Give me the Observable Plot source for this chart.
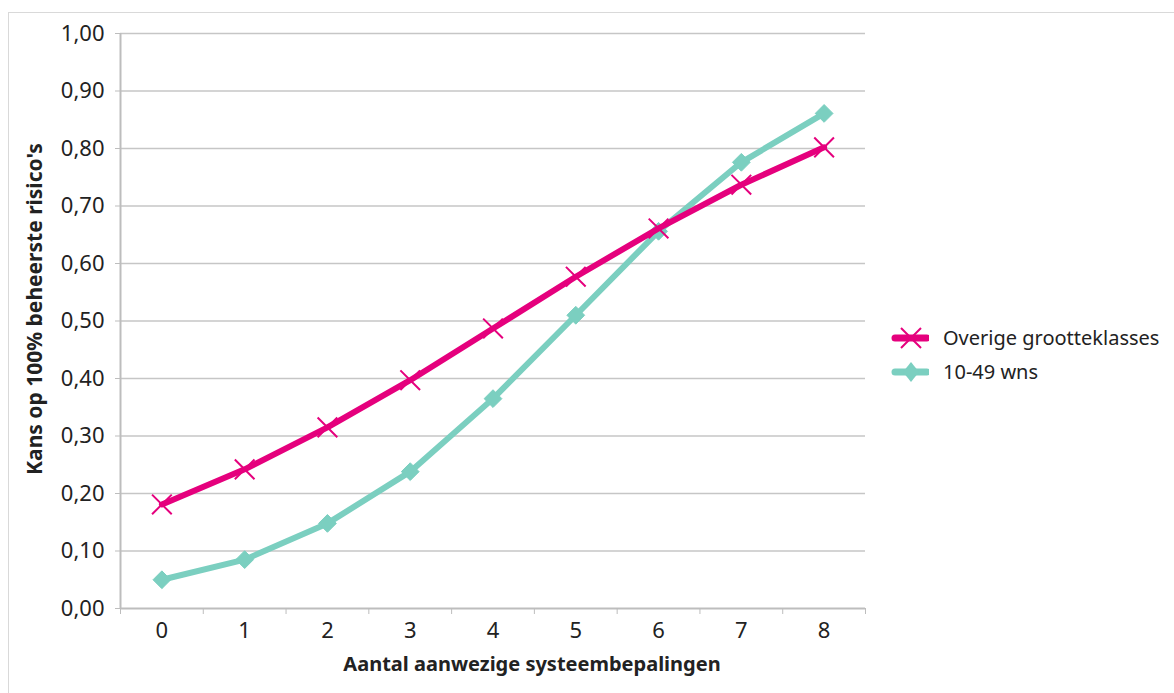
<!DOCTYPE html>
<html><head><meta charset="utf-8">
<script src="https://cdn.jsdelivr.net/npm/d3@7"></script>
<script src="https://cdn.jsdelivr.net/npm/@observablehq/plot@0.6"></script>
<style>
html,body{margin:0;padding:0;background:#fff;}
#wrap{position:relative;width:1174px;height:693px;overflow:hidden;font-family:"Noto Sans",sans-serif;}
#frame{position:absolute;left:8px;top:12px;width:1180px;height:700px;border:1px solid #d9d9d9;box-sizing:border-box;}
#chart{position:absolute;left:0;top:0;}
.leg{position:absolute;left:891px;display:flex;align-items:center;font-size:20px;color:#222;line-height:26px;}
.leg svg{margin-right:14px;}
</style></head><body>
<div id="wrap"><div id="frame"></div><div id="chart"></div>
<div class="leg" style="top:325px"><svg width="38" height="26"><line x1="4" y1="13" x2="36" y2="13" stroke="#e5007d" stroke-width="7" stroke-linecap="round"/><path d="M10,3L30,23M30,3L10,23" stroke="#e5007d" stroke-width="2"/></svg>Overige grootteklasses</div>
<div class="leg" style="top:359px"><svg width="38" height="26"><line x1="4" y1="13" x2="36" y2="13" stroke="#7bcfc0" stroke-width="7" stroke-linecap="round"/><path d="M20,3L28,13L20,23L12,13Z" fill="#7bcfc0"/></svg>10-49 wns</div>
</div>
<script>
const categories = [0,1,2,3,4,5,6,7,8];
const overige = [0.181,0.242,0.315,0.397,0.487,0.577,0.661,0.737,0.802];
const wns = [0.050,0.085,0.148,0.238,0.365,0.510,0.656,0.776,0.861];
const yTicks = [0,0.1,0.2,0.3,0.4,0.5,0.6,0.7,0.8,0.9,1.0];
const seriesNames = ["Overige grootteklasses","10-49 wns"];
const colors = ["#e5007d","#7bcfc0"];

const d1 = categories.map((c,i)=>({x:c,y:overige[i]}));
const d2 = categories.map((c,i)=>({x:c,y:wns[i]}));
const bounds = categories.concat([categories.length]).map(c=>c-0.5);
const fmt = d => d3.format(".2f")(d).replace(".", ",");

const plot = Plot.plot({
  width:1174, height:693,
  marginLeft:120, marginRight:309, marginTop:33, marginBottom:85,
  style:{fontFamily:"'Noto Sans',sans-serif", fontSize:"22px", color:"#222", background:"transparent"},
  x:{type:"linear", domain:[-0.5,8.5]},
  y:{domain:[0,1]},
  marks:[
    Plot.ruleY(yTicks.filter(d=>d>0), {stroke:"#c6c6c6", strokeWidth:1.3, strokeOpacity:1}),
    Plot.ruleY([0], {stroke:"#bdbdbd", strokeWidth:2}),
    Plot.ruleX([-0.5], {stroke:"#bdbdbd", strokeWidth:2}),
    Plot.axisY({ticks:yTicks, tickFormat:fmt, tickSize:5, stroke:"#bdbdbd", tickPadding:11, label:null, fontSize:22, fill:"#222"}),
    Plot.axisX({ticks:bounds, tickFormat:()=>"", tickSize:6, stroke:"#bdbdbd", label:null}),
    Plot.axisX({ticks:categories, tickFormat:d=>String(d), tickSize:0, tickPadding:14, label:null, fontSize:22, fill:"#222"}),
    Plot.line(d2, {x:"x", y:"y", stroke:colors[1], strokeWidth:6}),
    Plot.dot(d2, {x:"x", y:"y", symbol:"diamond2", fill:colors[1], stroke:colors[1], strokeWidth:1, r:8}),
    Plot.line(d1, {x:"x", y:"y", stroke:colors[0], strokeWidth:6}),
    Plot.dot(d1, {x:"x", y:"y", symbol:"times", stroke:colors[0], strokeWidth:2, r:9}),
    Plot.text(["Aantal aanwezige systeembepalingen"], {frameAnchor:"bottom", dy:62, dx:39, fontWeight:"bold", fontSize:20, fill:"#222"}),
    Plot.text(["Kans op 100% beheerste risico's"], {frameAnchor:"left", textAnchor:"middle", dx:-85, dy:-12, rotate:-90, fontWeight:"bold", fontSize:21, fill:"#222"})
  ]
});
document.getElementById("chart").appendChild(plot);
</script>
</body></html>
